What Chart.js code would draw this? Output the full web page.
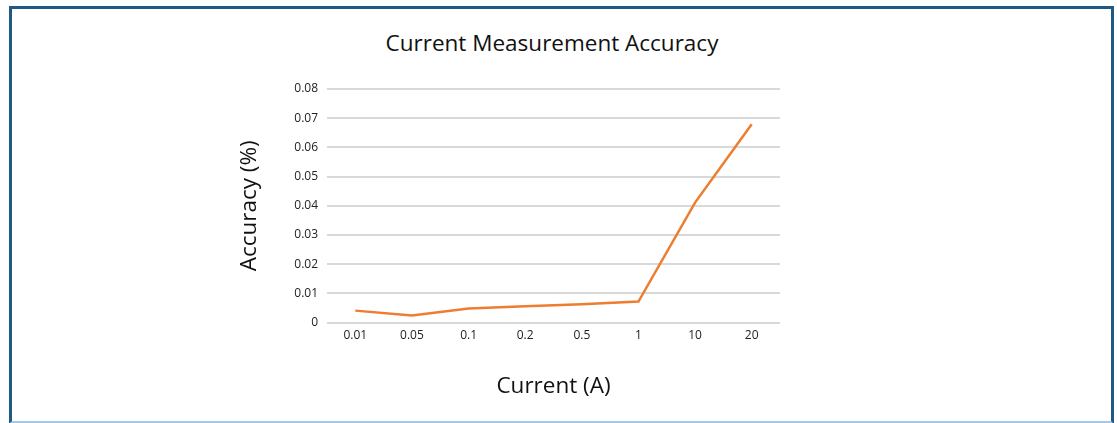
<!DOCTYPE html>
<html lang="en">
<head>
    <meta charset="UTF-8">
    <title>Current Measurement Accuracy</title>
    <script src="https://cdn.jsdelivr.net/npm/chart.js"></script>
    <style>
        body { margin: 0; background: #fff; }
        #frame {
            position: absolute; left: 9px; top: 6px; width: 1099px; height: 412px;
            border-left: 3px solid #1f5a85; border-top: 3px solid #1f5a85;
            border-right: 3px solid #1f5a85; border-bottom: 3px solid #a5c8e8;
        }
        #wrap { position: absolute; left: 0; top: 0; width: 1117px; height: 423px; }
        #chartTitle {
            position: absolute; left: 352px; width: 400px; top: 28px; text-align: center;
            font-family: 'Open Sans', sans-serif; font-size: 22.5px; line-height: 30px; color: #111;
        }
    </style>
</head>
<body>
    <div id="frame"></div>
    <div id="chartTitle">Current Measurement Accuracy</div>
    <div id="wrap"><canvas id="chartCanvas"></canvas></div>

    <script>
        const currents = ['0.01', '0.05', '0.1', '0.2', '0.5', '1', '10', '20'];
        const accuracy = [0.0041, 0.0024, 0.0048, 0.0056, 0.0063, 0.0072, 0.0411, 0.0679];

        const font = "'Open Sans', sans-serif";
        const ctx = document.getElementById('chartCanvas').getContext('2d');

        new Chart(ctx, {
            type: 'line',
            data: {
                labels: currents,
                datasets: [{
                    label: 'Accuracy',
                    data: accuracy,
                    borderColor: '#ed7d31',
                    borderWidth: 2.5,
                    pointRadius: 0,
                    tension: 0,
                    fill: false,
                }],
            },
            options: {
                responsive: true,
                maintainAspectRatio: false,
                animation: false,
                layout: { padding: { left: 236, right: 337, top: 89, bottom: 23 } },
                scales: {
                    x: {
                        offset: true,
                        grid: { display: false, drawTicks: false },
                        border: { display: false },
                        ticks: { color: '#222', font: { family: font, size: 12 }, padding: 6 },
                        title: { display: true, text: 'Current (A)', color: '#111', font: { family: font, size: 22.5 }, padding: { top: 24, bottom: 0 } },
                    },
                    y: {
                        min: 0,
                        max: 0.08,
                        ticks: { stepSize: 0.01, color: '#222', font: { family: font, size: 12 }, padding: 9 },
                        grid: { color: '#d9d9d9', lineWidth: 2, drawTicks: false },
                        border: { display: false },
                        title: { display: true, text: 'Accuracy (%)', color: '#111', font: { family: font, size: 22.5 }, padding: { top: 0, bottom: 20 } },
                        afterFit: (scale) => { scale.width = 91; },
                    },
                },
                plugins: {
                    legend: { display: false },
                    tooltip: { enabled: false },
                },
            },
        });
    </script>
</body>
</html>
